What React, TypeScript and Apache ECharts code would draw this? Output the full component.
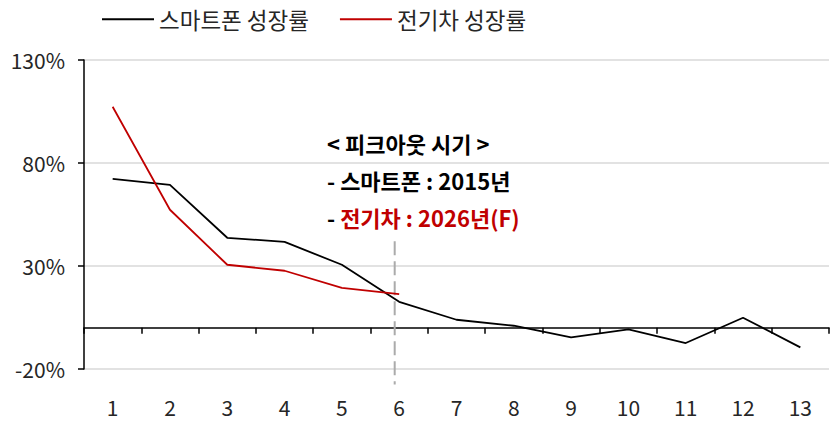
import React, { useEffect, useRef } from "react";
import * as echarts from "echarts";

const categories = ["1", "2", "3", "4", "5", "6", "7", "8", "9", "10", "11", "12", "13"];
const smartphoneGrowth = [72.3, 69.4, 43.7, 41.7, 30.6, 12.6, 3.9, 1.0, -4.6, -0.8, -7.4, 4.9, -9.5];
const evGrowth = [107.3, 57.3, 30.6, 27.7, 19.4, 16.3];
const seriesNames = ["스마트폰 성장률", "전기차 성장률"];
const peakoutIndex = 5;
const peakoutRange = [42, -27.5];
const yTicks = { min: -20, max: 130, interval: 50 };

const FONT = '"Noto Sans CJK KR", "Noto Sans", sans-serif';

export default function App() {
  const ref = useRef<HTMLDivElement>(null);
  useEffect(() => {
    if (!ref.current) return;
    const chart = echarts.init(ref.current, undefined, { renderer: "svg" });
    chart.setOption({
      animation: false,
      backgroundColor: "#ffffff",
      textStyle: { fontFamily: FONT },
      legend: {
        left: 97,
        top: 3,
        itemWidth: 52,
        itemHeight: 14,
        itemGap: 31,
        icon: "path://M0,6 L52,6 L52,8 L0,8 Z",
        textStyle: { fontSize: 22.5, color: "#262626", fontFamily: FONT },
        data: seriesNames,
      },
      grid: { left: 84, right: 1, top: 60, bottom: 52, containLabel: false },
      xAxis: [
        {
          type: "category",
          data: categories,
          position: "bottom",
          axisLine: { onZero: true, lineStyle: { color: "#000", width: 1.5 } },
          axisTick: { show: true, length: 6, lineStyle: { color: "#000", width: 1.5 } },
          axisLabel: { show: false },
          splitLine: { show: false },
        },
        {
          type: "category",
          data: categories,
          position: "bottom",
          axisLine: { show: false, onZero: false },
          axisTick: { show: false },
          axisLabel: { fontSize: 21, color: "#262626", margin: 27, fontFamily: FONT },
          splitLine: { show: false },
        },
      ],
      yAxis: {
        type: "value",
        min: yTicks.min,
        max: yTicks.max,
        interval: yTicks.interval,
        axisLine: { show: true, lineStyle: { color: "#000", width: 1.5 } },
        axisTick: { show: true, length: 6, lineStyle: { color: "#000", width: 1.5 } },
        axisLabel: { fontSize: 21, color: "#262626", margin: 19, formatter: "{value}%", fontFamily: FONT },
        splitLine: { show: true, lineStyle: { color: "#d9d9d9", width: 1.5 } },
      },
      series: [
        {
          name: seriesNames[0],
          type: "line",
          data: smartphoneGrowth,
          symbol: "none",
          lineStyle: { color: "#000", width: 1.8 },
          itemStyle: { color: "#000" },
          z: 3,
        },
        {
          name: seriesNames[1],
          type: "line",
          data: evGrowth,
          symbol: "none",
          lineStyle: { color: "#c00000", width: 1.8 },
          itemStyle: { color: "#c00000" },
          z: 4,
        },
        {
          name: "peakout",
          type: "custom",
          clip: false,
          silent: true,
          z: 2,
          data: [[peakoutIndex, peakoutRange[0], peakoutRange[1]]],
          encode: { x: 0, y: [1, 2] },
          renderItem: (params: any, api: any) => {
            const p1 = api.coord([api.value(0), api.value(1)]);
            const p2 = api.coord([api.value(0), api.value(2)]);
            return {
              type: "line",
              shape: { x1: p1[0] - 4.5, y1: p1[1], x2: p2[0] - 4.5, y2: p2[1] },
              style: { stroke: "#ababab", lineWidth: 2, lineDash: [14, 6] },
            };
          },
        },
      ],
      graphic: [
        {
          type: "text",
          x: 327,
          y: 143,
          style: { text: "< 피크아웃 시기 >", font: `bold 22px ${FONT}`, fill: "#000", verticalAlign: "middle" },
        },
        {
          type: "text",
          x: 327,
          y: 180,
          style: { text: "- 스마트폰 : 2015년", font: `bold 22px ${FONT}`, fill: "#000", verticalAlign: "middle" },
        },
        {
          type: "text",
          x: 327,
          y: 217,
          style: {
            text: "{a|- }{b|전기차 : 2026년(F)}",
            verticalAlign: "middle",
            rich: {
              a: { fontFamily: FONT, fontWeight: "bold", fontSize: 22, fill: "#000" },
              b: { fontFamily: FONT, fontWeight: "bold", fontSize: 22, fill: "#c00000" },
            },
          },
        },
      ],
    });
    return () => chart.dispose();
  }, []);
  return <div ref={ref} style={{ width: 830, height: 421, position: "absolute", left: 0, top: 0 }} />;
}
